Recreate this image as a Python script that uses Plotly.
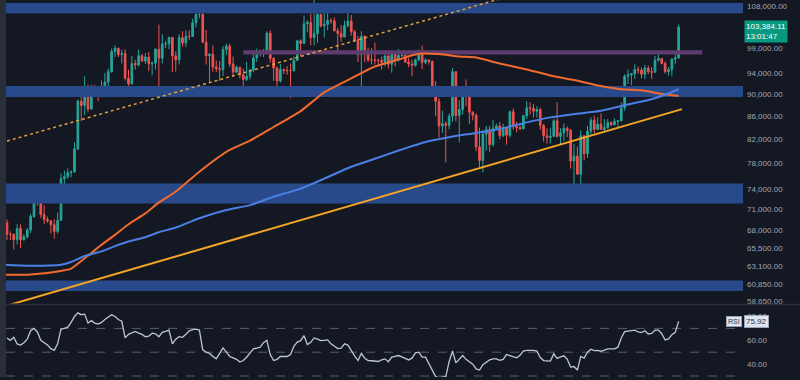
import math
import plotly.graph_objects as go

# ---------------- data (daily BTC candles, day index 0 .. 199) ----------------
FIRST_OPEN = 69000
CLOSE = [
    67400, 67380, 66650, 68200, 66650, 67050, 68000, 69920, 72720, 72330,
    70220, 69500, 69300, 68750, 67800, 69370, 75600, 75900, 76540, 76670,
    80400, 88700, 87950, 90500, 87300, 91050, 90600, 89850, 90500, 92300,
    94300, 98300, 98950, 97700, 97900, 93000, 91950, 95900, 95650, 97450,
    96400, 97200, 95850, 95980, 98750, 96950, 99850, 99900, 101200, 97400,
    96650, 101150, 100050, 101450, 101400, 104300, 106100, 106100, 100200, 97460,
    97750, 95200, 94880, 94700, 98700, 99400, 95800, 94200, 95150, 93700,
    92800, 93400, 94600, 97000, 98100, 98200, 98300, 102100, 96900, 95000,
    92500, 94700, 94550, 94500, 94500, 96500, 100500, 99950, 104100, 104400,
    101200, 102000, 106100, 103650, 104000, 104800, 104700, 102600, 102050, 101300,
    103700, 104700, 102400, 100650, 97700, 101400, 97900, 96600, 96600, 96500,
    96500, 96150, 97400, 95750, 97900, 96600, 97500, 97600, 96200, 95800,
    95550, 96600, 98300, 96100, 96600, 96300, 91500, 88700, 84300, 84700,
    84400, 86000, 94300, 86100, 87200, 90600, 89900, 86700, 86200, 80700,
    78500, 82900, 83700, 81100, 83900, 84300, 82600, 84000, 82700, 86800,
    84200, 84000, 83800, 86100, 87500, 87400, 86900, 87200, 84400, 82600,
    82300, 82500, 85200, 82500, 83100, 83900, 83500, 78400, 79200, 76300,
    82600, 79600, 83400, 85300, 83700, 84600, 83700, 84000, 84900, 84500,
    85100, 85200, 87500, 93400, 93700, 93900, 94700, 94600, 93800, 95000,
    94300, 94200, 96500, 96900, 95900, 94300, 94700, 96800, 97000, 103384.11,
]
HIGH = [
    69500, 67800, 67500, 68800, 68800, 67400, 68300, 70300, 73600, 72900,
    72700, 71600, 69900, 69400, 69500, 70500, 76400, 76900, 77200, 76900,
    81500, 89000, 89900, 93400, 91800, 91800, 91700, 91400, 92600, 94000,
    94900, 98900, 99600, 99100, 98700, 98800, 94700, 97400, 96600, 98700,
    97800, 98000, 98200, 96300, 99000, 103900, 101900, 100500, 101400, 101300,
    98300, 101900, 102500, 102700, 102700, 105200, 107800, 108300, 106500, 102800,
    98000, 99500, 96500, 96400, 99400, 99900, 99900, 97300, 95500, 95200,
    94900, 96200, 94900, 97800, 98900, 98700, 98800, 102500, 102700, 97200,
    95300, 95800, 94900, 95400, 95900, 97300, 100700, 100800, 105900, 104900,
    106300, 109500, 107200, 106300, 106800, 107100, 105300, 105500, 103200, 103800,
    104800, 106400, 106000, 102800, 101500, 102500, 101700, 99100, 99000, 100100,
    96900, 97300, 98300, 98500, 98100, 98100, 98800, 97900, 97700, 97100,
    96700, 96900, 98700, 99500, 96900, 96700, 96500, 92500, 89300, 87000,
    85100, 86500, 95000, 94400, 88900, 91000, 92800, 91200, 86900, 86500,
    84000, 83600, 84300, 84300, 85300, 84700, 85000, 84700, 84000, 87000,
    87400, 85000, 84500, 86200, 88700, 88500, 88200, 87800, 87500, 84600,
    83900, 83900, 85500, 88500, 83900, 84700, 84200, 83800, 81200, 80800,
    83500, 82700, 84300, 85800, 86100, 85800, 86500, 85500, 85500, 85100,
    85600, 85300, 88500, 93800, 94700, 94000, 95700, 95300, 95100, 95600,
    95500, 95200, 97400, 97900, 96900, 96300, 95200, 96900, 97700, 103900,
]
LOW = [
    66600, 66600, 65300, 66000, 65500, 66500, 66800, 67600, 69700, 71500,
    69700, 68800, 69000, 67500, 66800, 67500, 69300, 74500, 75600, 75800,
    76500, 80200, 85100, 86200, 86700, 87100, 90000, 88700, 89400, 90400,
    91500, 94100, 97200, 97200, 95900, 92600, 90800, 91800, 94700, 95300,
    96200, 95800, 94400, 93600, 94700, 90500, 95900, 99000, 98800, 94200,
    94300, 95700, 99300, 99200, 100700, 101300, 103300, 105300, 100000, 95700,
    92200, 94200, 94200, 92500, 93400, 97600, 95200, 93300, 94000, 93000,
    91300, 92500, 92800, 94200, 96200, 97300, 97200, 97900, 96100, 92500,
    91200, 92200, 93800, 93700, 89300, 94300, 96500, 97300, 99900, 102300,
    99600, 99500, 100100, 103300, 101200, 102700, 104100, 102500, 97800, 100300,
    101300, 103300, 101600, 100300, 96200, 91200, 96200, 96200, 95700, 95700,
    95700, 94700, 95300, 94900, 94100, 95300, 96300, 97200, 96000, 95200,
    93400, 95300, 96400, 94800, 95800, 95700, 91200, 86000, 82300, 83100,
    78200, 83700, 85000, 85100, 81500, 86300, 87800, 84700, 85300, 80000,
    77400, 76600, 80100, 79900, 80800, 83600, 82000, 82400, 81100, 82300,
    83600, 83200, 83600, 83700, 85500, 86300, 85800, 85800, 83600, 81600,
    81300, 81300, 82400, 82300, 81200, 81700, 82400, 77200, 74500, 76200,
    74600, 78500, 78900, 82800, 83000, 83700, 83600, 83100, 83800, 84300,
    84400, 83900, 85100, 87000, 91900, 91700, 92900, 93900, 93000, 92900,
    93800, 92900, 94100, 96300, 95700, 93900, 93500, 93400, 95800, 96900,
]
OPEN = [FIRST_OPEN] + CLOSE[:-1]
DAYS = list(range(len(CLOSE)))

# moving averages (day index, price)
MA_ORANGE_DAYS = [-1, 7, 16, 19, 22, 25, 28, 32, 36, 41, 45, 50, 57, 65, 72, 79, 87,
                  94, 102, 109, 116, 122, 128, 134, 139, 146, 154, 161, 168, 176,
                  182, 188, 194, 199]
MA_ORANGE = [61980, 62020, 62490, 62780, 63790, 64840, 65960, 67320, 68810, 70370,
             71980, 73620, 76700, 79910, 81780, 84110, 86920, 90360, 93000, 95310,
             96680, 97830, 97790, 97290, 97080, 95900, 94730, 93570, 92670, 91540,
             90930, 90730, 90050, 89680]
MA_BLUE_DAYS = [-1, 7, 16, 19, 23, 28, 32, 36, 41, 45, 50, 57, 65, 72, 79, 87, 94,
                102, 109, 116, 124, 131, 139, 146, 154, 161, 168, 176, 183, 191, 196, 199]
MA_BLUE = [63300, 63170, 63300, 63650, 64440, 65060, 65770, 66410, 66990, 67690,
           68340, 69660, 70860, 71580, 72820, 74070, 75600, 77490, 78770, 80130,
           81560, 82360, 83090, 83770, 84920, 85800, 86380, 86970, 87990, 89080,
           90130, 90930]

RSI = [
    62, 60, 62.5, 57, 56, 58, 61, 68, 70, 67,
    60, 58, 56, 53, 51.5, 57, 69.5, 70, 71, 75,
    80, 83, 81.5, 82, 74.5, 76.5, 74.5, 73.6, 75, 77.5,
    79.5, 81.4, 80, 77.5, 76, 62, 65, 66.5, 67.5, 66,
    65, 63, 63.5, 66, 65.5, 63, 66.7, 67.5, 68.6, 57,
    61, 63, 62.5, 65, 68, 69, 69.4, 68.6, 52, 50,
    49, 46.5, 44.5, 49, 53.6, 50, 46.4, 45.3, 44, 41.7,
    43, 45.8, 49, 52.8, 53.5, 54.2, 58, 60, 48, 43,
    44, 46.4, 46.4, 46.4, 48, 55, 58.5, 59.7, 63.9, 56.4,
    58.3, 62, 61, 59.7, 60, 60.3, 57, 55, 53, 53.5,
    57, 56, 51, 47, 43, 49, 45, 43, 42.8, 42.5,
    42.2, 43.5, 44.4, 42, 45.8, 46.5, 47.2, 46, 44.8, 43.5,
    45, 49.5, 50, 45.8, 45.8, 40, 35.5, 29.5, 28.5, 29,
    29.5, 42, 51, 41, 44, 47.2, 44, 41.7, 40, 36,
    35, 39.5, 41.7, 43.5, 44.4, 44.4, 43.1, 44, 48, 47,
    46, 45.3, 47.5, 51, 51.6, 51.9, 51.6, 51, 45.5, 43,
    42.5, 42.5, 48.6, 44.8, 46, 47, 44, 37.5, 38, 35,
    46.5, 45, 50, 52.5, 51.3, 51.5, 50.8, 51.8, 52.8, 52.8,
    52.8, 54.2, 62, 67.3, 67.8, 68.2, 68.5, 67, 66.5, 68,
    65.3, 65.8, 68.5, 68.5, 65.5, 60.3, 61.1, 64.7, 66.7, 75.92,
]

BLUE_ZONES = [(106400, 108665), (89500, 91540), (71830, 74840), (59940, 61260)]
PURPLE_ZONE = dict(low=97690, high=98550, start=70, end=206)
SUPPORT_LINE_DAYS = [0, 200]
SUPPORT_LINE = [58170, 87270]
DOTTED_LINE_DAYS = [0, 150]
DOTTED_LINE = [81710, 110460]

PRICE_TICKS = [108000, 99000, 94000, 90000, 86000, 82000, 78000, 74000, 71000,
               68000, 65500, 63100, 60850, 58650]
RSI_TICKS = [80, 60, 40]
RSI_LEVELS = [70, 50, 30]
LAST_PRICE_TEXT = "103,384.11"
COUNTDOWN = "13:01:47"
LAST_RSI_TEXT = "75.92"

assert len(CLOSE) == len(HIGH) == len(LOW) == len(RSI) == 200

# ---------------- styling / layout ----------------
BG = "#141823"
UP = "#26a69a"
DN = "#ef5350"
ZONE_BLUE = "#284a8a"
ZONE_PURPLE = "#5e3c6f"
LABEL = "#a3a6ae"
FONT = "Liberation Sans, Arial, sans-serif"

PLOT_W = 743
X_RANGE = [-2.074, 218.07]
X_LEFT_EDGE = X_RANGE[0] + 6 * (X_RANGE[1] - X_RANGE[0]) / PLOT_W   # where zones begin
X_FAR = X_RANGE[1] + 20

fig = go.Figure()

# zones (drawn first, below everything)
for lo, hi in BLUE_ZONES:
    fig.add_trace(go.Scatter(x=[X_LEFT_EDGE, X_FAR, X_FAR, X_LEFT_EDGE, X_LEFT_EDGE],
                             y=[lo, lo, hi, hi, lo], mode="lines", fill="toself",
                             fillcolor=ZONE_BLUE, line=dict(width=0, color=ZONE_BLUE),
                             showlegend=False, hoverinfo="skip", xaxis="x", yaxis="y"))
pz = PURPLE_ZONE
fig.add_trace(go.Scatter(x=[pz["start"], pz["end"], pz["end"], pz["start"], pz["start"]],
                         y=[pz["low"], pz["low"], pz["high"], pz["high"], pz["low"]],
                         mode="lines", fill="toself", fillcolor=ZONE_PURPLE,
                         line=dict(width=0, color=ZONE_PURPLE),
                         showlegend=False, hoverinfo="skip", xaxis="x", yaxis="y"))

fig.add_trace(go.Candlestick(
    x=DAYS, open=OPEN, high=HIGH, low=LOW, close=CLOSE,
    increasing=dict(line=dict(color=UP, width=1), fillcolor=UP),
    decreasing=dict(line=dict(color=DN, width=1), fillcolor=DN),
    whiskerwidth=0, showlegend=False, hoverinfo="skip",
    xaxis="x", yaxis="y",
))
fig.add_trace(go.Scatter(x=DOTTED_LINE_DAYS, y=DOTTED_LINE, mode="lines",
                         line=dict(color="#e3a13c", width=1.5, dash="dot"),
                         showlegend=False, hoverinfo="skip", xaxis="x", yaxis="y"))
fig.add_trace(go.Scatter(x=SUPPORT_LINE_DAYS, y=SUPPORT_LINE, mode="lines",
                         line=dict(color="#f4a526", width=2),
                         showlegend=False, hoverinfo="skip", xaxis="x", yaxis="y"))
fig.add_trace(go.Scatter(x=MA_ORANGE_DAYS, y=MA_ORANGE, mode="lines",
                         line=dict(color="#f26a2d", width=2, shape="spline", smoothing=0.6),
                         showlegend=False, hoverinfo="skip", xaxis="x", yaxis="y"))
fig.add_trace(go.Scatter(x=MA_BLUE_DAYS, y=MA_BLUE, mode="lines",
                         line=dict(color="#4a7fe6", width=2, shape="spline", smoothing=0.6),
                         showlegend=False, hoverinfo="skip", xaxis="x", yaxis="y"))
fig.add_trace(go.Scatter(x=DAYS, y=RSI, mode="lines",
                         line=dict(color="#bcc5d8", width=1.3),
                         showlegend=False, hoverinfo="skip", xaxis="x", yaxis="y2"))

shapes = []
shapes.append(dict(type="rect", xref="paper", yref="paper", x0=0, x1=6 / PLOT_W, y0=0, y1=1,
                   fillcolor="#2a2e39", line=dict(width=0), layer="above"))
for lv in RSI_LEVELS:
    shapes.append(dict(type="line", xref="paper", yref="y2", x0=6 / PLOT_W, x1=1, y0=lv, y1=lv,
                       line=dict(color="#5a5e69", width=1, dash="dash"), layer="below"))
shapes.append(dict(type="line", xref="paper", yref="paper", x0=0, x1=800 / PLOT_W,
                   y0=73 / 380, y1=73 / 380, line=dict(color="#2a2e39", width=1.5)))

annotations = [
    dict(xref="paper", yref="y", x=1, y=math.log10(102400), xanchor="left", yanchor="middle",
         xshift=1, text=LAST_PRICE_TEXT + "<br>" + COUNTDOWN, showarrow=False, align="left",
         bgcolor="#089981", borderpad=1, font=dict(color="#ffffff", size=8, family=FONT)),
    dict(xref="paper", yref="y2", x=1, y=RSI[-1], xanchor="right", yanchor="middle",
         xshift=-1, text="RSI", showarrow=False, bgcolor="#dfe5ef", bordercolor="#9aa3b5",
         borderwidth=1, borderpad=1, font=dict(color="#2a3142", size=7, family=FONT)),
    dict(xref="paper", yref="y2", x=1, y=RSI[-1], xanchor="left", yanchor="middle",
         xshift=1, text=LAST_RSI_TEXT, showarrow=False, bgcolor="#dfe5ef", bordercolor="#9aa3b5",
         borderwidth=1, borderpad=1, font=dict(color="#2a3142", size=8, family=FONT)),
]

log_top = math.log10(109336)
log_bot = math.log10(58410)

fig.update_layout(
    width=800, height=380,
    margin=dict(l=0, r=800 - PLOT_W, t=0, b=0),
    paper_bgcolor=BG, plot_bgcolor=BG,
    showlegend=False,
    hovermode=False,
    font=dict(family=FONT, color=LABEL, size=8),
    xaxis=dict(range=X_RANGE, visible=False, rangeslider=dict(visible=False),
               showgrid=False, zeroline=False, fixedrange=True),
    yaxis=dict(type="log", range=[log_bot, log_top], domain=[74 / 380, 1], side="right",
               tickmode="array", tickvals=PRICE_TICKS,
               ticktext=[f"{v:,.2f}" for v in PRICE_TICKS],
               showgrid=False, zeroline=False, ticks="", showline=False,
               tickfont=dict(size=8, color=LABEL, family=FONT), ticklabelstandoff=3),
    yaxis2=dict(range=[29.17, 89.17], domain=[0, 72 / 380], side="right", anchor="x",
                tickmode="array", tickvals=RSI_TICKS,
                ticktext=[f"{v:.2f}" for v in RSI_TICKS],
                showgrid=False, zeroline=False, ticks="", showline=False,
                tickfont=dict(size=8, color=LABEL, family=FONT), ticklabelstandoff=3),
    shapes=shapes,
    annotations=annotations,
)

fig.write_html("out.html",
               config={"displayModeBar": False, "staticPlot": True},
               post_script="document.body.style.margin='0';document.body.style.padding='0';"
                           "document.body.style.background='" + BG + "';")
